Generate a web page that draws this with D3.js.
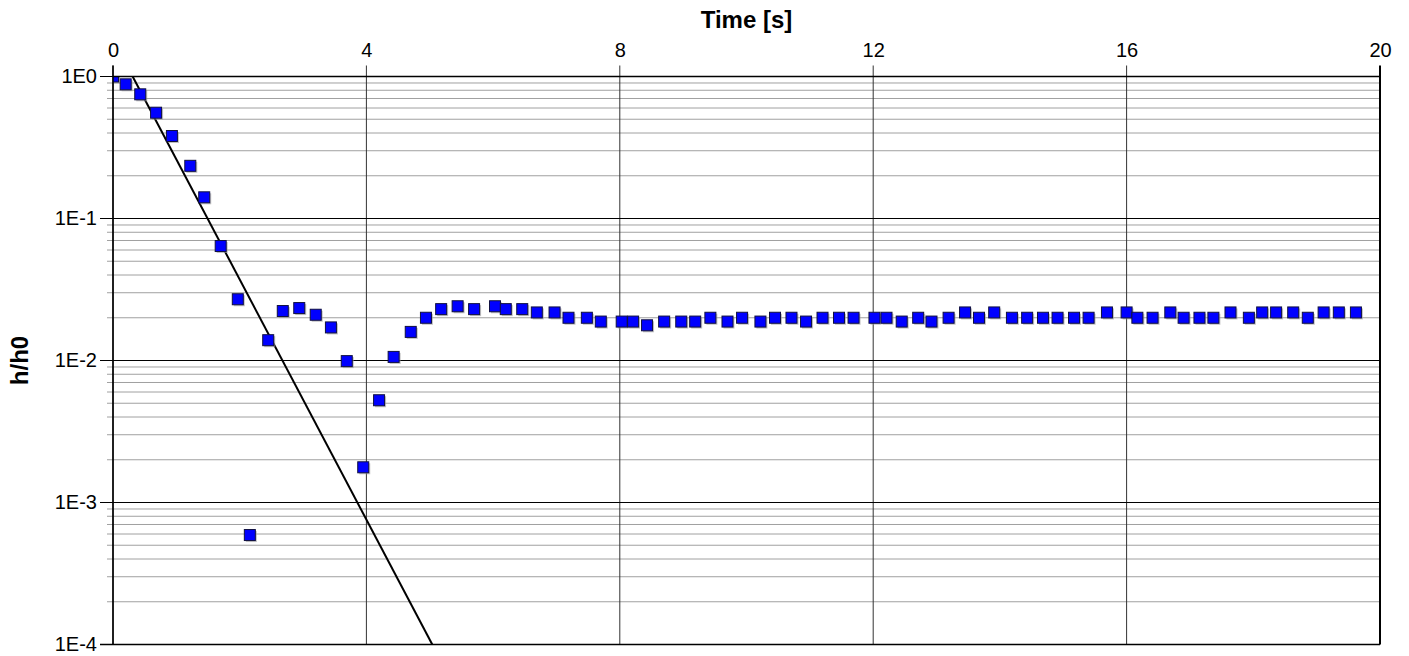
<!DOCTYPE html>
<html>
<head>
<meta charset="utf-8">
<script src="https://cdn.jsdelivr.net/npm/d3@7"></script>
<style>
  html, body { margin: 0; padding: 0; background: #fff; }
  svg { display: block; font-family: "Liberation Sans", Arial, sans-serif; }
</style>
</head>
<body>
<svg id="chart" width="1409" height="656"></svg>
<script>
// Measured decay of the normalised head h/h0 over time
const timeS = [0, 0.20, 0.43, 0.68, 0.93, 1.22, 1.44, 1.70, 1.97, 2.16, 2.45, 2.68, 2.94, 3.20, 3.44, 3.69, 3.95, 4.20, 4.43,
  4.70, 4.94, 5.18, 5.44, 5.70, 6.03, 6.20, 6.46, 6.69, 6.97, 7.19, 7.48, 7.70, 8.03, 8.21, 8.43, 8.70, 8.97, 9.19, 9.43,
  9.70, 9.93, 10.22, 10.45, 10.71, 10.94, 11.20, 11.46, 11.69, 12.02, 12.21, 12.45, 12.71, 12.92, 13.19, 13.45, 13.67,
  13.91, 14.19, 14.43, 14.68, 14.91, 15.17, 15.40, 15.69, 16.00, 16.17, 16.41, 16.69, 16.90, 17.15, 17.37, 17.64, 17.93,
  18.14, 18.36, 18.63, 18.86, 19.11, 19.35, 19.62];
const headRatio = [1.0, 0.881, 0.749, 0.556, 0.381, 0.235, 0.141, 0.064, 0.027, 0.00059, 0.0139, 0.0223, 0.0234, 0.0210, 0.0171, 0.0099, 0.00177, 0.00525, 0.0106,
  0.0159, 0.0200, 0.0230, 0.0241, 0.0230, 0.0241, 0.0230, 0.0230, 0.0218, 0.0218, 0.0200, 0.0200, 0.0188, 0.0188, 0.0188, 0.0177, 0.0188, 0.0188, 0.0188, 0.0200,
  0.0188, 0.0200, 0.0188, 0.0200, 0.0200, 0.0188, 0.0200, 0.0200, 0.0200, 0.0200, 0.0200, 0.0188, 0.0200, 0.0188, 0.0200, 0.0218, 0.0200,
  0.0218, 0.0200, 0.0200, 0.0200, 0.0200, 0.0200, 0.0200, 0.0218, 0.0218, 0.0200, 0.0200, 0.0218, 0.0200, 0.0200, 0.0200, 0.0218, 0.0200,
  0.0218, 0.0218, 0.0218, 0.0200, 0.0218, 0.0218, 0.0218];

// Straight-line fit on the log scale
const fitTime = [0.31, 5.04];
const fitHead = [1, 1e-4];

// Axis ticks
const xTicks = [0, 4, 8, 12, 16, 20];
const yDecades = [1, 1e-1, 1e-2, 1e-3, 1e-4];
const yDecadeLabels = ["1E0", "1E-1", "1E-2", "1E-3", "1E-4"];

const svg = d3.select("#chart");
const mLeft = 113, mRight = 1380, mTop = 76.5, mBottom = 644.5;

const x = d3.scaleLinear().domain([0, 20]).range([mLeft, mRight]);
const y = d3.scaleLog().domain([1e-4, 1]).range([mBottom, mTop]);

// Minor log grid lines (2..9 within each decade)
const minor = [];
for (let d = -4; d < 0; d++) {
  for (let m = 2; m <= 9; m++) minor.push(m * Math.pow(10, d));
}

const grid = svg.append("g");
grid.selectAll("line.minor").data(minor).join("line")
  .attr("class", "minor")
  .attr("x1", mLeft - 6).attr("x2", mRight)
  .attr("y1", d => y(d)).attr("y2", d => y(d))
  .attr("stroke", "#a0a0a0").attr("stroke-width", 1);

// Vertical grid lines, extended above the plot as ticks
grid.selectAll("line.vx").data(xTicks).join("line")
  .attr("class", "vx")
  .attr("x1", d => x(d)).attr("x2", d => x(d))
  .attr("y1", mTop - 11).attr("y2", mBottom)
  .attr("stroke", d => (d === 0 || d === 20 ? "#000" : "#333"))
  .attr("stroke-width", d => (d === 20 ? 2 : 1));

// Decade grid lines with ticks to the left
grid.selectAll("line.major").data(yDecades).join("line")
  .attr("class", "major")
  .attr("x1", mLeft - 13).attr("x2", mRight)
  .attr("y1", d => y(d)).attr("y2", d => y(d))
  .attr("stroke", "#000").attr("stroke-width", 1);

// Axis labels
const xAxisG = svg.append("g").attr("transform", `translate(0,${mTop - 11})`)
  .call(d3.axisTop(x).tickValues(xTicks).tickFormat(d3.format("d")).tickSize(0).tickPadding(9));
xAxisG.select(".domain").remove();
xAxisG.selectAll("text").attr("font-size", 20).attr("fill", "#000")
  .attr("font-family", "'Liberation Sans', Arial, sans-serif");

const yAxisG = svg.append("g").attr("transform", `translate(${mLeft - 13},0)`)
  .call(d3.axisLeft(y).tickValues(yDecades).tickFormat((d, i) => yDecadeLabels[i]).tickSize(0).tickPadding(3));
yAxisG.select(".domain").remove();
yAxisG.selectAll("text").attr("font-size", 20).attr("fill", "#000")
  .attr("font-family", "'Liberation Sans', Arial, sans-serif");

// Titles
svg.append("text").attr("x", (mLeft + mRight) / 2).attr("y", 28)
  .attr("text-anchor", "middle").attr("font-weight", "bold").attr("font-size", 24)
  .text("Time [s]");
svg.append("text").attr("transform", `translate(28,${(mTop + mBottom) / 2}) rotate(-90)`)
  .attr("text-anchor", "middle").attr("font-weight", "bold").attr("font-size", 24)
  .text("h/h0");

// Plot area clip
svg.append("clipPath").attr("id", "plotClip").append("rect")
  .attr("x", mLeft).attr("y", mTop).attr("width", mRight - mLeft).attr("height", mBottom - mTop);

const plot = svg.append("g").attr("clip-path", "url(#plotClip)");

// Fitted line
const fitPts = fitTime.map((t, i) => [t, fitHead[i]]);
plot.append("path").datum(fitPts)
  .attr("d", d3.line().x(d => x(d[0])).y(d => y(d[1])))
  .attr("fill", "none").attr("stroke", "#000").attr("stroke-width", 2);

// Measured points as shaded squares
const pts = timeS.map((t, i) => [t, headRatio[i]]);
const s = 11;
plot.selectAll("rect.shadow").data(pts).join("rect")
  .attr("class", "shadow")
  .attr("x", d => x(d[0]) - s / 2 + 1.5).attr("y", d => y(d[1]) - s / 2 + 1.5)
  .attr("width", s).attr("height", s)
  .attr("fill", "#999").attr("opacity", 0.6);
plot.selectAll("rect.pt").data(pts).join("rect")
  .attr("class", "pt")
  .attr("x", d => x(d[0]) - s / 2).attr("y", d => y(d[1]) - s / 2)
  .attr("width", s).attr("height", s)
  .attr("fill", "#0000ff").attr("stroke", "#101040").attr("stroke-width", 1);

// Frame: top border, left axis, bottom edge
svg.append("line").attr("x1", mLeft).attr("x2", mRight).attr("y1", mTop).attr("y2", mTop)
  .attr("stroke", "#000").attr("stroke-width", 1.5);
svg.append("line").attr("x1", mLeft).attr("x2", mLeft).attr("y1", mTop - 11).attr("y2", mBottom)
  .attr("stroke", "#000").attr("stroke-width", 1.5);
svg.append("line").attr("x1", mLeft - 13).attr("x2", mRight).attr("y1", mBottom).attr("y2", mBottom)
  .attr("stroke", "#000").attr("stroke-width", 1.5);
</script>
</body>
</html>
